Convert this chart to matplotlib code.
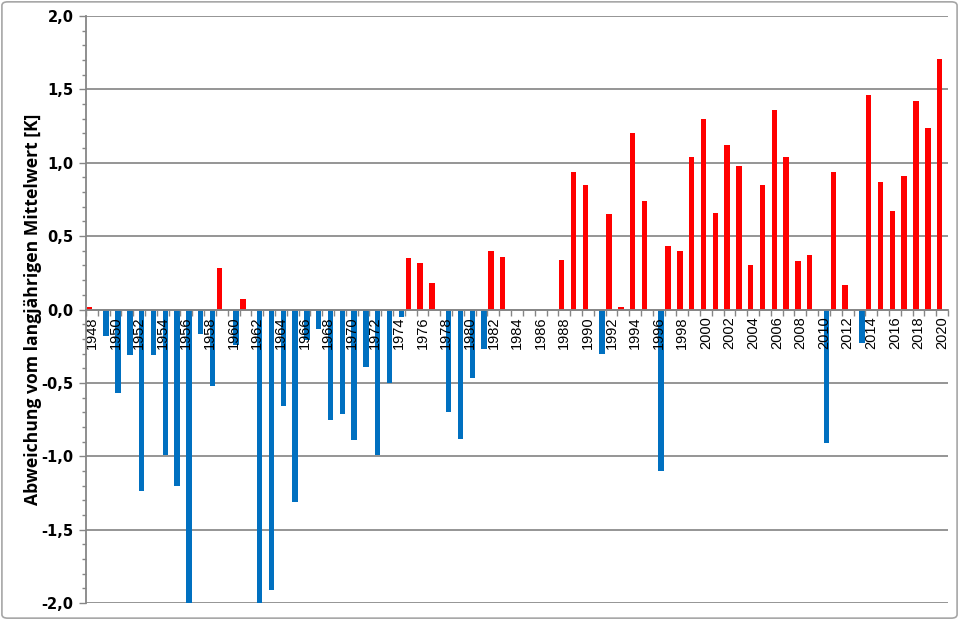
import matplotlib.pyplot as plt
import matplotlib.ticker as mticker
from matplotlib.patches import FancyBboxPatch
import numpy as np

years = list(range(1948, 2021))
anomaly = [0.02, -0.18, -0.57, -0.31, -1.24, -0.31, -0.99, -1.20, -2.00, -0.17,
           -0.52, 0.28, -0.24, 0.07, -2.00, -1.91, -0.66, -1.31, -0.21, -0.13,
           -0.75, -0.71, -0.89, -0.39, -0.99, -0.50, -0.05, 0.35, 0.32, 0.18,
           -0.70, -0.88, -0.47, -0.27, 0.40, 0.36, 0.0, 0.0, 0.0, 0.0,
           0.34, 0.94, 0.85, -0.30, 0.65, 0.02, 1.20, 0.74, -1.10, 0.43,
           0.40, 1.04, 1.30, 0.66, 1.12, 0.98, 0.30, 0.85, 1.36, 1.04,
           0.33, 0.37, -0.91, 0.94, 0.17, -0.23, 1.46, 0.87, 0.67, 0.91,
           1.42, 1.24, 1.71]
ylabel = 'Abweichung vom langjährigen Mittelwert [K]'

vals = np.array(anomaly)
x = np.arange(len(years))
warm = np.where(vals > 0, vals, 0)
cold = np.where(vals < 0, vals, 0)

fig = plt.figure(figsize=(9.59, 6.2), dpi=100)
ax = fig.add_axes([86 / 959, 17 / 620, 862 / 959, 587 / 620])

w = 0.46
ax.bar(x - 0.21, warm, width=w, color='#ff0000', zorder=1)
ax.bar(x + 0.21, cold, width=w, color='#0070c0', zorder=1)

ax.set_xlim(-0.5, len(years) - 0.5)
ax.set_ylim(-2.0, 2.0)

# y axis
ax.yaxis.set_major_locator(mticker.MultipleLocator(0.5))
ax.yaxis.set_minor_locator(mticker.MultipleLocator(0.1))
ax.yaxis.set_major_formatter(mticker.FuncFormatter(lambda v, p: f'{v:.1f}'.replace('.', ',')))
ax.tick_params(axis='y', which='major', direction='out', length=5, width=1, color='#868686',
               labelsize=10.5, pad=4)
ax.tick_params(axis='y', which='minor', direction='out', length=3, width=1, color='#868686')
for lab in ax.get_yticklabels():
    lab.set_fontweight('bold')
ax.yaxis.grid(True, which='major', color='#8c8c8c', linewidth=1.3)
ax.yaxis.set_zorder(0.5)

# x axis on the zero line
ax.spines['bottom'].set_position(('data', 0))
ax.spines['bottom'].set_color('#868686')
ax.spines['bottom'].set_linewidth(1.3)
ax.spines['left'].set_color('#868686')
ax.spines['left'].set_linewidth(1.3)
ax.spines['top'].set_visible(False)
ax.spines['right'].set_visible(False)

ax.set_xticks(x[::2])
ax.set_xticklabels([str(y) for y in years[::2]], rotation=90, fontsize=10.5,
                   family='Liberation Sans')
ax.set_xticks(np.arange(-0.5, len(years), 1.0), minor=True)
ax.tick_params(axis='x', which='major', length=0, pad=5)
ax.tick_params(axis='x', which='minor', direction='out', length=4, width=1, color='#868686')

ax.set_ylabel(ylabel, fontsize=12.6, fontweight='bold', family='Open Sans')
ax.yaxis.set_label_coords(-44 / 862, 0.5)

fig.patches.append(FancyBboxPatch((0.002, 0.003), 0.996, 0.994,
                                  boxstyle='round,pad=0,rounding_size=0.006',
                                  transform=fig.transFigure, fill=False,
                                  edgecolor='#a6a6a6', linewidth=1.2))

fig.savefig('out.png', dpi=100)
